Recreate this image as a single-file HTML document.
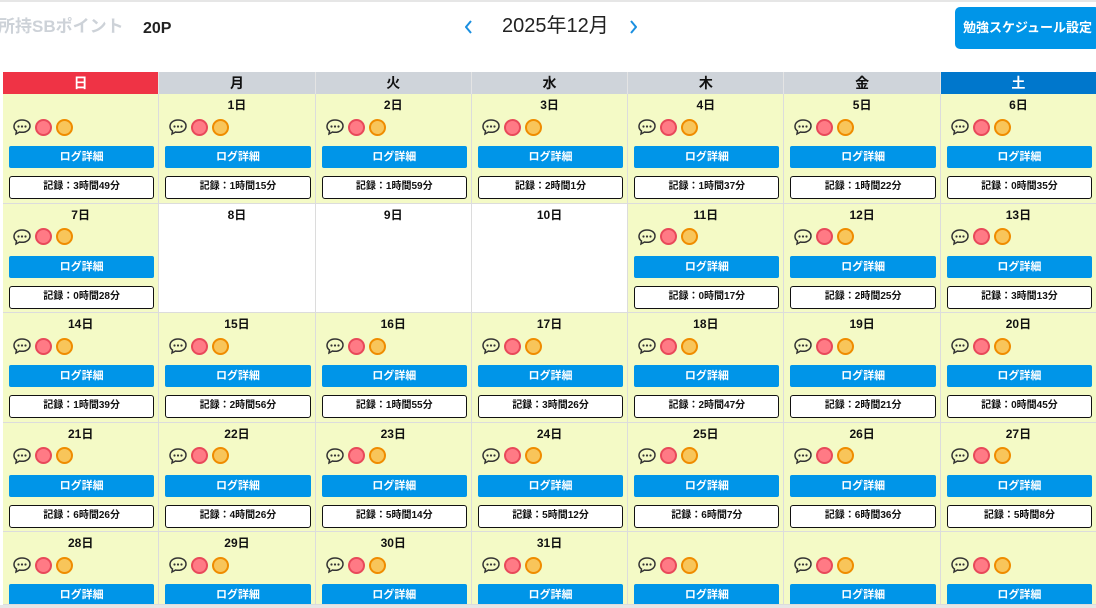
<!DOCTYPE html>
<html style="overflow:hidden;height:608px"><head><meta charset="utf-8"><style>
*{box-sizing:border-box;margin:0;padding:0}
body{width:1096px;height:608px;overflow:hidden;background:#fff;font-family:"Liberation Sans","Noto Sans CJK JP",sans-serif;position:relative}
.topline{position:absolute;left:0;top:0;width:1096px;height:2px;background:#e6e6e6}
.botline{position:absolute;left:0;top:605px;width:1096px;height:3px;background:#e6e6e6}
.pts{position:absolute;left:-2px;top:16px;font-size:17px;line-height:22px;font-weight:bold;color:#cdd2d8}
.p20{position:absolute;left:143px;top:19px;font-size:16px;line-height:20px;font-weight:bold;color:#222}
.month{position:absolute;left:502px;top:13px;font-size:20px;line-height:26px;color:#222}
.arr{position:absolute;top:20px}
.setbtn{position:absolute;left:955px;top:7px;width:145px;height:42px;background:#0095e8;border-radius:5px;color:#fff;font-size:13px;font-weight:bold;line-height:42px;text-align:center}
.grid{position:absolute;left:3px;top:72px;height:533px;overflow:hidden;display:grid;grid-template-columns:repeat(7,156.3px);grid-template-rows:22px 109.5px 109.5px 109.5px 109.5px 73px;width:1094px}
.h{font-size:14px;font-weight:bold;text-align:center;line-height:22px;background:#cfd4da;color:#111;border-right:1px solid #e4e4e4}
.h.su{background:#ef3345;color:#fff}.h.sa{background:#0077cc;color:#fff}
.c{background:#f4fac6;border-right:1px solid #dcdcdc;border-bottom:1px solid #dcdcdc;position:relative;overflow:hidden}
.c.w{background:#fff}
.d{position:absolute;left:0;right:0;top:2px;text-align:center;font-size:12px;font-weight:bold;line-height:18px;color:#111}
.ic{position:absolute;left:9px;top:23px;height:20px;display:flex;align-items:center}
.r{width:17px;height:17px;border-radius:50%;background:#ff7a85;border:2px solid #e8495a;margin-left:3px}
.o{width:17px;height:17px;border-radius:50%;background:#f8c55a;border:2px solid #ef8c00;margin-left:4px}
.b{position:absolute;left:6px;right:4px;top:52px;height:22px;background:#0095e8;border-radius:2px;color:#fff;font-size:11px;font-weight:bold;text-align:center;line-height:22px}
.rec{position:absolute;left:6px;right:4px;top:82px;height:23px;border:1.5px solid #111;border-radius:3px;background:#fff;font-size:10px;font-weight:bold;text-align:center;line-height:20px;color:#111}
</style></head><body>
<div class="topline"></div>
<div class="pts">所持SBポイント</div>
<div class="p20">20P</div>
<svg class="arr" style="left:465px" width="8" height="14"><path d="M6 1L1 7l5 6" fill="none" stroke="#1a8fe0" stroke-width="2"/></svg>
<div class="month">2025年12月</div>
<svg class="arr" style="left:629px" width="8" height="14"><path d="M2 1l5 6-5 6" fill="none" stroke="#1a8fe0" stroke-width="2"/></svg>
<div class="setbtn">勉強スケジュール設定</div>
<svg width="0" height="0" style="position:absolute"><defs><symbol id="bub" viewBox="0 0 20 20"><path d="M10 3C5 3 2 6 2 9.5c0 2 1 3.5 2.5 4.5L4 17l3.5-2c.8.2 1.6.3 2.5.3 5 0 8-3 8-6.3S15 3 10 3z" fill="none" stroke="#333" stroke-width="1.5"/><circle cx="6.5" cy="9.5" r="1.1" fill="#333"/><circle cx="10" cy="9.5" r="1.1" fill="#333"/><circle cx="13.5" cy="9.5" r="1.1" fill="#333"/></symbol></defs></svg>
<div class="grid">
<div class="h su">日</div><div class="h">月</div><div class="h">火</div><div class="h">水</div><div class="h">木</div><div class="h">金</div><div class="h sa">土</div>

<div class="c"><div class="ic"><svg width="20" height="20"><use href="#bub"/></svg><div class="r"></div><div class="o"></div></div><div class="b">ログ詳細</div><div class="rec">記録：3時間49分</div></div>
<div class="c"><div class="d">1日</div><div class="ic"><svg width="20" height="20"><use href="#bub"/></svg><div class="r"></div><div class="o"></div></div><div class="b">ログ詳細</div><div class="rec">記録：1時間15分</div></div>
<div class="c"><div class="d">2日</div><div class="ic"><svg width="20" height="20"><use href="#bub"/></svg><div class="r"></div><div class="o"></div></div><div class="b">ログ詳細</div><div class="rec">記録：1時間59分</div></div>
<div class="c"><div class="d">3日</div><div class="ic"><svg width="20" height="20"><use href="#bub"/></svg><div class="r"></div><div class="o"></div></div><div class="b">ログ詳細</div><div class="rec">記録：2時間1分</div></div>
<div class="c"><div class="d">4日</div><div class="ic"><svg width="20" height="20"><use href="#bub"/></svg><div class="r"></div><div class="o"></div></div><div class="b">ログ詳細</div><div class="rec">記録：1時間37分</div></div>
<div class="c"><div class="d">5日</div><div class="ic"><svg width="20" height="20"><use href="#bub"/></svg><div class="r"></div><div class="o"></div></div><div class="b">ログ詳細</div><div class="rec">記録：1時間22分</div></div>
<div class="c"><div class="d">6日</div><div class="ic"><svg width="20" height="20"><use href="#bub"/></svg><div class="r"></div><div class="o"></div></div><div class="b">ログ詳細</div><div class="rec">記録：0時間35分</div></div>

<div class="c"><div class="d">7日</div><div class="ic"><svg width="20" height="20"><use href="#bub"/></svg><div class="r"></div><div class="o"></div></div><div class="b">ログ詳細</div><div class="rec">記録：0時間28分</div></div>
<div class="c w"><div class="d">8日</div></div>
<div class="c w"><div class="d">9日</div></div>
<div class="c w"><div class="d">10日</div></div>
<div class="c"><div class="d">11日</div><div class="ic"><svg width="20" height="20"><use href="#bub"/></svg><div class="r"></div><div class="o"></div></div><div class="b">ログ詳細</div><div class="rec">記録：0時間17分</div></div>
<div class="c"><div class="d">12日</div><div class="ic"><svg width="20" height="20"><use href="#bub"/></svg><div class="r"></div><div class="o"></div></div><div class="b">ログ詳細</div><div class="rec">記録：2時間25分</div></div>
<div class="c"><div class="d">13日</div><div class="ic"><svg width="20" height="20"><use href="#bub"/></svg><div class="r"></div><div class="o"></div></div><div class="b">ログ詳細</div><div class="rec">記録：3時間13分</div></div>

<div class="c"><div class="d">14日</div><div class="ic"><svg width="20" height="20"><use href="#bub"/></svg><div class="r"></div><div class="o"></div></div><div class="b">ログ詳細</div><div class="rec">記録：1時間39分</div></div>
<div class="c"><div class="d">15日</div><div class="ic"><svg width="20" height="20"><use href="#bub"/></svg><div class="r"></div><div class="o"></div></div><div class="b">ログ詳細</div><div class="rec">記録：2時間56分</div></div>
<div class="c"><div class="d">16日</div><div class="ic"><svg width="20" height="20"><use href="#bub"/></svg><div class="r"></div><div class="o"></div></div><div class="b">ログ詳細</div><div class="rec">記録：1時間55分</div></div>
<div class="c"><div class="d">17日</div><div class="ic"><svg width="20" height="20"><use href="#bub"/></svg><div class="r"></div><div class="o"></div></div><div class="b">ログ詳細</div><div class="rec">記録：3時間26分</div></div>
<div class="c"><div class="d">18日</div><div class="ic"><svg width="20" height="20"><use href="#bub"/></svg><div class="r"></div><div class="o"></div></div><div class="b">ログ詳細</div><div class="rec">記録：2時間47分</div></div>
<div class="c"><div class="d">19日</div><div class="ic"><svg width="20" height="20"><use href="#bub"/></svg><div class="r"></div><div class="o"></div></div><div class="b">ログ詳細</div><div class="rec">記録：2時間21分</div></div>
<div class="c"><div class="d">20日</div><div class="ic"><svg width="20" height="20"><use href="#bub"/></svg><div class="r"></div><div class="o"></div></div><div class="b">ログ詳細</div><div class="rec">記録：0時間45分</div></div>

<div class="c"><div class="d">21日</div><div class="ic"><svg width="20" height="20"><use href="#bub"/></svg><div class="r"></div><div class="o"></div></div><div class="b">ログ詳細</div><div class="rec">記録：6時間26分</div></div>
<div class="c"><div class="d">22日</div><div class="ic"><svg width="20" height="20"><use href="#bub"/></svg><div class="r"></div><div class="o"></div></div><div class="b">ログ詳細</div><div class="rec">記録：4時間26分</div></div>
<div class="c"><div class="d">23日</div><div class="ic"><svg width="20" height="20"><use href="#bub"/></svg><div class="r"></div><div class="o"></div></div><div class="b">ログ詳細</div><div class="rec">記録：5時間14分</div></div>
<div class="c"><div class="d">24日</div><div class="ic"><svg width="20" height="20"><use href="#bub"/></svg><div class="r"></div><div class="o"></div></div><div class="b">ログ詳細</div><div class="rec">記録：5時間12分</div></div>
<div class="c"><div class="d">25日</div><div class="ic"><svg width="20" height="20"><use href="#bub"/></svg><div class="r"></div><div class="o"></div></div><div class="b">ログ詳細</div><div class="rec">記録：6時間7分</div></div>
<div class="c"><div class="d">26日</div><div class="ic"><svg width="20" height="20"><use href="#bub"/></svg><div class="r"></div><div class="o"></div></div><div class="b">ログ詳細</div><div class="rec">記録：6時間36分</div></div>
<div class="c"><div class="d">27日</div><div class="ic"><svg width="20" height="20"><use href="#bub"/></svg><div class="r"></div><div class="o"></div></div><div class="b">ログ詳細</div><div class="rec">記録：5時間8分</div></div>

<div class="c"><div class="d">28日</div><div class="ic"><svg width="20" height="20"><use href="#bub"/></svg><div class="r"></div><div class="o"></div></div><div class="b">ログ詳細</div></div>
<div class="c"><div class="d">29日</div><div class="ic"><svg width="20" height="20"><use href="#bub"/></svg><div class="r"></div><div class="o"></div></div><div class="b">ログ詳細</div></div>
<div class="c"><div class="d">30日</div><div class="ic"><svg width="20" height="20"><use href="#bub"/></svg><div class="r"></div><div class="o"></div></div><div class="b">ログ詳細</div></div>
<div class="c"><div class="d">31日</div><div class="ic"><svg width="20" height="20"><use href="#bub"/></svg><div class="r"></div><div class="o"></div></div><div class="b">ログ詳細</div></div>
<div class="c"><div class="ic"><svg width="20" height="20"><use href="#bub"/></svg><div class="r"></div><div class="o"></div></div><div class="b">ログ詳細</div></div>
<div class="c"><div class="ic"><svg width="20" height="20"><use href="#bub"/></svg><div class="r"></div><div class="o"></div></div><div class="b">ログ詳細</div></div>
<div class="c"><div class="ic"><svg width="20" height="20"><use href="#bub"/></svg><div class="r"></div><div class="o"></div></div><div class="b">ログ詳細</div></div>
</div>
<div class="botline"></div>
</body></html>
